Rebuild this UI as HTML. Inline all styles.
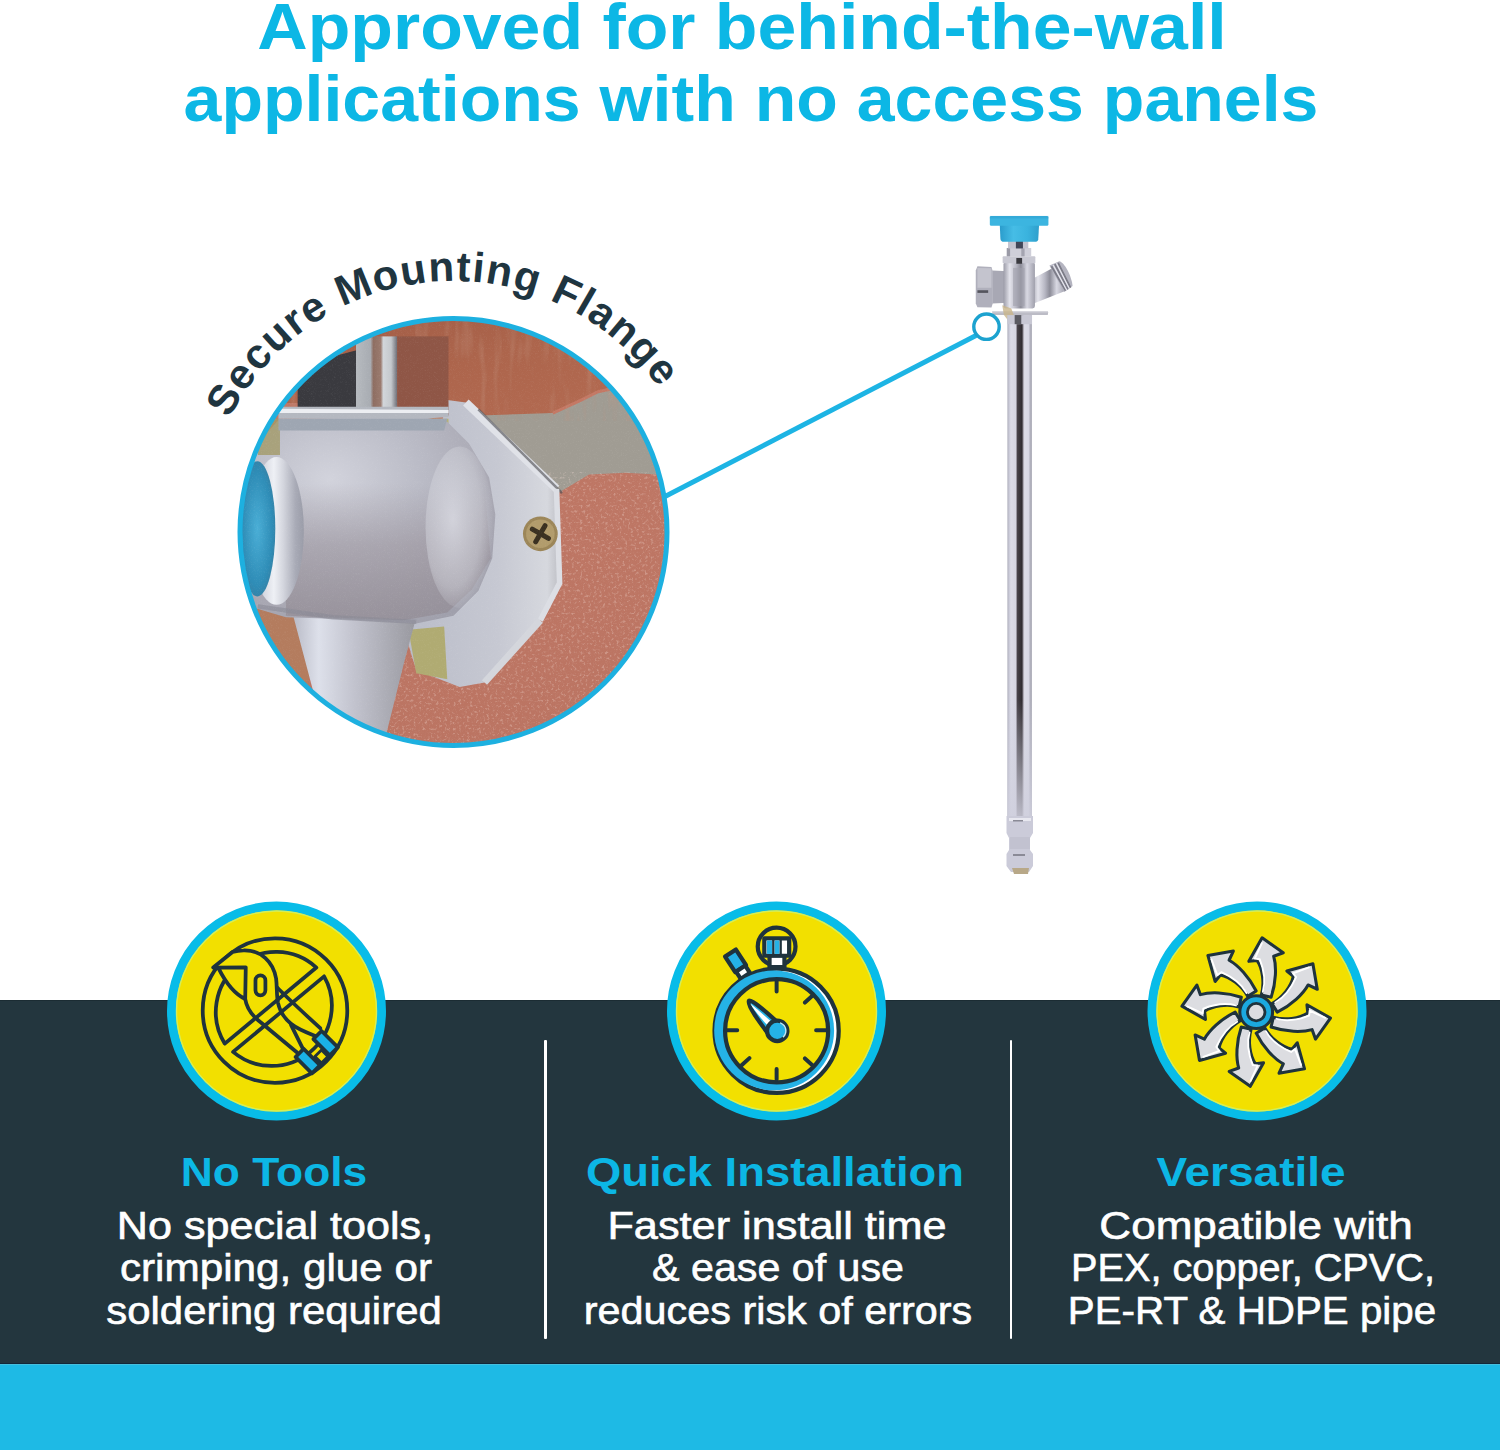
<!DOCTYPE html>
<html><head><meta charset="utf-8">
<style>
html,body{margin:0;padding:0;}
body{width:1500px;height:1450px;position:relative;overflow:hidden;background:#fff;font-family:"Liberation Sans",sans-serif;}
.abs{position:absolute;}
#band{left:0;top:1000px;width:1500px;height:364px;background:#23363e;border-top:1px solid #1b2c33;box-sizing:border-box;}
#foot{left:0;top:1363px;width:1500px;height:87px;background:#1ebae5;border-top:1px solid #12283a;box-sizing:border-box;box-shadow:inset 0 1px 0 #46bfdc;}
.ln{position:absolute;white-space:nowrap;line-height:1;}
.c{color:#0cb7e5;}
.w{color:#fff;-webkit-text-stroke:0.6px #fff;}
.div{position:absolute;top:1040px;width:2.5px;height:299px;background:#fff;border-radius:1px;}
svg{position:absolute;left:0;top:0;}
</style></head><body>
<div id="band" class="abs"></div>
<div id="foot" class="abs"></div>

<div class="ln c" style="left:742.3px;top:-5.5px;font-size:64px;font-weight:700;transform:translateX(-50%) scaleX(1.0905);">Approved for behind-the-wall</div>
<div class="ln c" style="left:750.5px;top:66.5px;font-size:64px;font-weight:700;transform:translateX(-50%) scaleX(1.0637);">applications with no access panels</div>
<div class="ln c" style="left:273.6px;top:1152.1px;font-size:41px;font-weight:700;transform:translateX(-50%) scaleX(1.0818);">No Tools</div>
<div class="ln c" style="left:775.0px;top:1152.1px;font-size:41px;font-weight:700;transform:translateX(-50%) scaleX(1.1061);">Quick Installation</div>
<div class="ln c" style="left:1251.3px;top:1152.1px;font-size:41px;font-weight:700;transform:translateX(-50%) scaleX(1.1217);">Versatile</div>
<div class="ln w" style="left:275.0px;top:1206.6px;font-size:38px;font-weight:400;transform:translateX(-50%) scaleX(1.1345);">No special tools,</div>
<div class="ln w" style="left:276.0px;top:1249.2px;font-size:38px;font-weight:400;transform:translateX(-50%) scaleX(1.1111);">crimping, glue or</div>
<div class="ln w" style="left:274.0px;top:1292.3px;font-size:38px;font-weight:400;transform:translateX(-50%) scaleX(1.1030);">soldering required</div>
<div class="ln w" style="left:777.4px;top:1206.6px;font-size:38px;font-weight:400;transform:translateX(-50%) scaleX(1.1391);">Faster install time</div>
<div class="ln w" style="left:777.8px;top:1249.2px;font-size:38px;font-weight:400;transform:translateX(-50%) scaleX(1.0836);">&amp; ease of use</div>
<div class="ln w" style="left:777.7px;top:1292.3px;font-size:38px;font-weight:400;transform:translateX(-50%) scaleX(1.0880);">reduces risk of errors</div>
<div class="ln w" style="left:1256.1px;top:1206.6px;font-size:38px;font-weight:400;transform:translateX(-50%) scaleX(1.1588);">Compatible with</div>
<div class="ln w" style="left:1252.6px;top:1249.2px;font-size:38px;font-weight:400;transform:translateX(-50%) scaleX(1.0445);">PEX, copper, CPVC,</div>
<div class="ln w" style="left:1252.1px;top:1292.3px;font-size:38px;font-weight:400;transform:translateX(-50%) scaleX(1.0614);">PE-RT &amp; HDPE pipe</div>
<div class="div" style="left:544px"></div>
<div class="div" style="left:1009.5px"></div>
<svg width="1500" height="1450" viewBox="0 0 1500 1450">
<!-- icon circles -->
<g>
<circle cx="276.5" cy="1011" r="105" fill="#f2e000" stroke="#08bce8" stroke-width="9"/>
<circle cx="776.5" cy="1011" r="105" fill="#f2e000" stroke="#08bce8" stroke-width="9"/>
<circle cx="1257" cy="1011" r="105" fill="#f2e000" stroke="#08bce8" stroke-width="9"/>
<circle cx="276.5" cy="1011" r="100" fill="none" stroke="#d4ee58" stroke-width="1.4"/>
<circle cx="776.5" cy="1011" r="100" fill="none" stroke="#d4ee58" stroke-width="1.4"/>
<circle cx="1257" cy="1011" r="100" fill="none" stroke="#d4ee58" stroke-width="1.4"/>
</g>
<!--ICON1--><g transform="translate(195,930) scale(0.110345)" fill="none" stroke="#1f333d" stroke-width="34" stroke-linejoin="round" stroke-linecap="round">
<circle cx="725" cy="730" r="655"/>
<path d="M1100,340 L270,1030 A545,545 0 0,1 1100,340 Z"/>
<path d="M345,1105 L1170,420 A545,545 0 0,1 345,1105 Z"/>
<path d="M165,340 L340,200 C380,188 410,185 440,185 C600,180 710,290 735,440 C742,500 742,560 744,600 L458,600 L460,338 Z" fill="#f2e000" stroke="none"/>
<path d="M165,340 L340,200 C380,188 410,185 440,185 C600,180 710,290 735,440 C745,520 738,590 752,660 C770,740 810,800 870,850 C930,900 1010,930 1090,960"/>
<path d="M455,625 C470,720 520,780 600,840 L925,1110"/>
<path d="M745,520 C780,560 820,600 1135,890"/>
<path d="M870,860 L975,1070"/>
<path d="M170,340 L460,338 L455,625 C380,590 300,520 215,350 Z" fill="#f2e000"/>
<rect x="548" y="412" width="90" height="180" rx="45" ry="45"/>
<path d="M1096,1262 L1258,1100 L1205,1047 L1043,1209 Z" fill="#1f333d"/>
<rect x="-105" y="-52" width="210" height="104" transform="translate(1022,1188) rotate(45)" fill="#1ab2e6"/>
<rect x="-105" y="-52" width="210" height="104" transform="translate(1184,1026) rotate(45)" fill="#1ab2e6"/>
<rect x="-42" y="-42" width="84" height="84" transform="translate(1146,1146) rotate(45)" fill="#f2e000" stroke-width="26"/>
</g>
<!--/ICON1-->
<!--ICON2--><g transform="translate(700,920) scale(0.12418)" stroke="#1f333d" stroke-width="34" stroke-linejoin="round" stroke-linecap="round">
<!-- side button -->
<g transform="translate(300,350) rotate(-33)">
<rect x="-52" y="-100" width="104" height="150" fill="#25b2e6"/>
<rect x="-44" y="50" width="88" height="70" fill="#ffffff"/>
<path d="M-22,-80 L-22,40" stroke="#ffffff" stroke-width="14" stroke-linecap="butt" fill="none" opacity="0.0"/>
</g>
<!-- crown -->
<circle cx="617" cy="214" r="152" fill="#f2e000" stroke-width="34"/>
<rect x="560" y="285" width="120" height="95" fill="#ffffff"/>
<rect x="518" y="148" width="200" height="140" fill="#ffffff"/>
<rect x="538" y="165" width="42" height="108" fill="#25b2e6" stroke="none"/>
<rect x="600" y="165" width="40" height="108" fill="#25b2e6" stroke="none"/>
<path d="M590,160 L590,280 M650,160 L650,280" stroke-width="18" fill="none"/>
<!-- body -->
<circle cx="617" cy="892" r="500" fill="#ffffff"/>
<circle cx="597" cy="889" r="483" fill="#25b2e6" stroke="none"/>
<circle cx="617" cy="892" r="415" fill="#f2e000"/>
<g fill="none" stroke-width="32">
<path d="M617,490 L617,575 M617,1200 L617,1285 M215,888 L300,888 M935,888 L1020,888 M845,665 L905,610 M845,1115 L905,1170 M335,1170 L398,1112"/>
</g>
<!-- hand -->
<path d="M395,650 C420,640 560,760 640,840 L560,930 C500,850 370,680 395,650 Z" fill="#25b2e6"/>
<path d="M405,672 C440,700 520,770 575,820 L545,850 C490,790 430,720 405,672 Z" fill="#ffffff" stroke="none"/>
<circle cx="622" cy="893" r="82" fill="#25b2e6"/>
<path d="M 650 830 A 68 68 0 0 1 672 940" fill="none" stroke="#bfe9f7" stroke-width="12"/>
</g>
<!--/ICON2-->
<!--ICON3--><g transform="translate(1256.2,1012.1) scale(0.11723)" stroke="#1f333d" stroke-width="26" stroke-linejoin="round" stroke-linecap="round"><g transform="rotate(2.3)"><path d="M38,-148 C62,-250 40,-370 -10,-440 L-80,-430 L25,-635 L210,-515 L130,-482 C158,-400 160,-260 122,-132 Z" fill="#dcdde1"/>
<path d="M50,-175 C70,-260 52,-360 12,-452 L-30,-455 L25,-590" fill="none" stroke="#ffffff" stroke-width="16"/></g>
<g transform="rotate(47.3)"><path d="M38,-148 C62,-250 40,-370 -10,-440 L-80,-430 L25,-635 L210,-515 L130,-482 C158,-400 160,-260 122,-132 Z" fill="#dcdde1"/>
<path d="M50,-175 C70,-260 52,-360 12,-452 L-30,-455 L25,-590" fill="none" stroke="#ffffff" stroke-width="16"/></g>
<g transform="rotate(92.3)"><path d="M38,-148 C62,-250 40,-370 -10,-440 L-80,-430 L25,-635 L210,-515 L130,-482 C158,-400 160,-260 122,-132 Z" fill="#dcdde1"/>
<path d="M50,-175 C70,-260 52,-360 12,-452 L-30,-455 L25,-590" fill="none" stroke="#ffffff" stroke-width="16"/></g>
<g transform="rotate(137.3)"><path d="M38,-148 C62,-250 40,-370 -10,-440 L-80,-430 L25,-635 L210,-515 L130,-482 C158,-400 160,-260 122,-132 Z" fill="#dcdde1"/>
<path d="M50,-175 C70,-260 52,-360 12,-452 L-30,-455 L25,-590" fill="none" stroke="#ffffff" stroke-width="16"/></g>
<g transform="rotate(182.3)"><path d="M38,-148 C62,-250 40,-370 -10,-440 L-80,-430 L25,-635 L210,-515 L130,-482 C158,-400 160,-260 122,-132 Z" fill="#dcdde1"/>
<path d="M50,-175 C70,-260 52,-360 12,-452 L-30,-455 L25,-590" fill="none" stroke="#ffffff" stroke-width="16"/></g>
<g transform="rotate(227.3)"><path d="M38,-148 C62,-250 40,-370 -10,-440 L-80,-430 L25,-635 L210,-515 L130,-482 C158,-400 160,-260 122,-132 Z" fill="#dcdde1"/>
<path d="M50,-175 C70,-260 52,-360 12,-452 L-30,-455 L25,-590" fill="none" stroke="#ffffff" stroke-width="16"/></g>
<g transform="rotate(272.3)"><path d="M38,-148 C62,-250 40,-370 -10,-440 L-80,-430 L25,-635 L210,-515 L130,-482 C158,-400 160,-260 122,-132 Z" fill="#dcdde1"/>
<path d="M50,-175 C70,-260 52,-360 12,-452 L-30,-455 L25,-590" fill="none" stroke="#ffffff" stroke-width="16"/></g>
<g transform="rotate(317.3)"><path d="M38,-148 C62,-250 40,-370 -10,-440 L-80,-430 L25,-635 L210,-515 L130,-482 C158,-400 160,-260 122,-132 Z" fill="#dcdde1"/>
<path d="M50,-175 C70,-260 52,-360 12,-452 L-30,-455 L25,-590" fill="none" stroke="#ffffff" stroke-width="16"/></g>
<circle r="140" fill="#1ba9df"/>
<circle r="75" fill="#dcdde1" stroke-width="24"/>
</g><!--/ICON3-->
<!--FAUCET--><defs>
<linearGradient id="pipeG" x1="1007.4" y1="0" x2="1031.9" y2="0" gradientUnits="userSpaceOnUse">
<stop offset="0" stop-color="#aeaebb"/>
<stop offset="0.06" stop-color="#c4c4d2"/>
<stop offset="0.14" stop-color="#dcdce8"/>
<stop offset="0.34" stop-color="#d6d6e2"/>
<stop offset="0.38" stop-color="#8a8690"/>
<stop offset="0.41" stop-color="#48434a"/>
<stop offset="0.60" stop-color="#2e2a2e"/>
<stop offset="0.64" stop-color="#9a96a0"/>
<stop offset="0.70" stop-color="#dcdce6"/>
<stop offset="0.86" stop-color="#d8d8e4"/>
<stop offset="0.93" stop-color="#b2b2be"/>
<stop offset="1" stop-color="#a8a8b4"/>
</linearGradient>
<linearGradient id="pipeFade" x1="0" y1="700" x2="0" y2="815" gradientUnits="userSpaceOnUse">
<stop offset="0" stop-color="#cfcfdd" stop-opacity="0"/>
<stop offset="1" stop-color="#cfcfdd" stop-opacity="0.85"/>
</linearGradient>
<linearGradient id="chromeG" x1="0" y1="0" x2="1" y2="0">
<stop offset="0" stop-color="#9c9ca8"/>
<stop offset="0.2" stop-color="#e4e4ec"/>
<stop offset="0.4" stop-color="#b8b8c4"/>
<stop offset="0.55" stop-color="#8c8c98"/>
<stop offset="0.75" stop-color="#d8d8e2"/>
<stop offset="1" stop-color="#a0a0ac"/>
</linearGradient>
<linearGradient id="blueG" x1="0" y1="0" x2="1" y2="0">
<stop offset="0" stop-color="#2a9ccc"/>
<stop offset="0.35" stop-color="#46bde6"/>
<stop offset="0.7" stop-color="#3ab3de"/>
<stop offset="1" stop-color="#2f9fcc"/>
</linearGradient>
</defs>
<!-- pipe -->
<rect x="1007.4" y="312" width="24.5" height="505" fill="url(#pipeG)"/>
<rect x="1007.4" y="700" width="24.5" height="117" fill="url(#pipeFade)"/>
<!-- bottom fitting -->
<path d="M1006.5,816 L1033,816 L1033,833 L1030,838 L1030,850 L1033,854 L1033,866 L1029,872 L1011,872 L1006.5,866 L1006.5,854 L1009,850 L1009,838 L1006.5,833 Z" fill="#cbcbd9"/>
<rect x="1009" y="818" width="22" height="3" fill="#e8e8f0"/>
<rect x="1013" y="820" width="10" height="1.5" fill="#8a8a96"/>
<rect x="1013" y="854" width="12" height="2" fill="#8a8a96"/>
<rect x="1010" y="837" width="20" height="12" fill="#c2c2d0"/>
<path d="M1012,868 L1029,868 L1028,874 L1014,874 Z" fill="#b8a888"/>
<g transform="translate(965,205) scale(0.08276)">
<!-- right outlet -->
<path d="M800,900 L1060,760 L1210,1040 L830,1190 Z" fill="url(#chromeG)"/>
<path d="M1020,730 L1140,680 C1200,690 1290,860 1300,980 L1200,1050 Z" fill="#b4b4c0"/>
<path d="M1045,740 L1215,1035 M1085,715 L1245,1020 M1125,700 L1275,1000" stroke="#7c7c88" stroke-width="22" fill="none"/>
<path d="M1065,725 L1230,1030 M1105,705 L1260,1010" stroke="#e6e6ee" stroke-width="14" fill="none"/>
<!-- left cap -->
<path d="M330,790 L520,800 L520,1180 L330,1190 Z" fill="#a8a8b4"/>
<path d="M150,740 L320,750 L335,800 L335,1190 L320,1240 L150,1235 L130,1190 L130,790 Z" fill="#b0b0bc"/>
<path d="M150,760 L320,765 L320,1000 L150,1000 Z" fill="#c4c4ce"/>
<rect x="150" y="1030" width="130" height="32" fill="#55555e"/>
<!-- body -->
<rect x="465" y="690" width="380" height="560" rx="30" fill="url(#chromeG)"/>
<rect x="580" y="760" width="140" height="460" fill="#a0a0ac" opacity="0.6"/>
<rect x="455" y="620" width="395" height="85" rx="10" fill="#c8c8d2"/>
<rect x="620" y="640" width="70" height="70" fill="#3a3a40"/>
<!-- hex nut -->
<rect x="505" y="520" width="295" height="100" fill="#cfcfd9"/>
<rect x="505" y="520" width="40" height="100" fill="#9a9aa6"/>
<rect x="680" y="520" width="40" height="100" fill="#a4a4b0"/>
<!-- stem -->
<rect x="520" y="430" width="245" height="95" fill="#c4c4d0"/>
<rect x="615" y="430" width="85" height="95" fill="#404658"/>
<!-- handle -->
<path d="M420,235 L895,235 L885,420 C880,440 860,445 840,445 L470,445 C445,445 430,430 428,410 Z" fill="url(#blueG)"/>
<path d="M300,150 C300,138 310,132 330,132 L980,132 C1000,132 1008,140 1008,155 L1008,235 C1008,245 1000,250 985,250 L325,250 C308,250 300,245 300,235 Z" fill="#3cb5e0"/>
<rect x="300" y="132" width="708" height="30" fill="#2c9fcf" opacity="0.5"/>
<!-- flange -->
<path d="M330,1285 L1000,1285 L1005,1300 L1000,1330 L330,1330 Z" fill="#bcbcc6"/>
<rect x="330" y="1285" width="670" height="12" fill="#dadae2"/>
<!-- brass bits -->
<path d="M450,1210 L560,1250 L600,1360 L540,1420 L470,1330 Z" fill="#c8b48a" opacity="0.8"/>
<!-- pipe collar under flange -->
<rect x="510" y="1330" width="300" height="110" fill="#c8c8d4"/>
<rect x="600" y="1330" width="80" height="110" fill="#5a5a62"/>
</g>
<!--/FAUCET-->
<!-- connector -->
<line x1="665" y1="496.5" x2="976" y2="335.5" stroke="#1db4e4" stroke-width="4.8"/>
<circle cx="986.5" cy="326.7" r="12.7" fill="none" stroke="#1ca2cf" stroke-width="3.4"/>
<!-- photo circle -->
<defs><path id="arc" d="M 453.5 532 m -251 0 a 251 251 0 1 1 502 0"/></defs>
<!--PHOTO--><defs>
<clipPath id="pc"><circle cx="453.5" cy="532" r="213.5"/></clipPath>
<linearGradient id="brickG" x1="0" y1="0" x2="0" y2="1">
<stop offset="0" stop-color="#c07866"/>
<stop offset="1" stop-color="#bb7462"/>
</linearGradient>
<linearGradient id="topBrick" x1="0" y1="0" x2="1" y2="1">
<stop offset="0" stop-color="#9e5a44"/>
<stop offset="0.5" stop-color="#ad654c"/>
<stop offset="1" stop-color="#b46b52"/>
</linearGradient>
<radialGradient id="bodyR" cx="0.35" cy="0.3" r="0.8">
<stop offset="0" stop-color="#d2d3dc"/>
<stop offset="0.45" stop-color="#babbc6"/>
<stop offset="0.8" stop-color="#a9a8b3"/>
<stop offset="1" stop-color="#a0a0ac"/>
</radialGradient>
<linearGradient id="flangeG" x1="0" y1="0" x2="1" y2="0">
<stop offset="0" stop-color="#b9bcc8"/>
<stop offset="0.6" stop-color="#c6c8d2"/>
<stop offset="0.92" stop-color="#d6d8de"/>
<stop offset="1" stop-color="#bdbec4"/>
</linearGradient>
<linearGradient id="pipeDown" x1="0" y1="0" x2="1" y2="0">
<stop offset="0" stop-color="#b6b8c4"/>
<stop offset="0.22" stop-color="#dde0ea"/>
<stop offset="0.5" stop-color="#c2c3ce"/>
<stop offset="1" stop-color="#98989f"/>
</linearGradient>
<linearGradient id="stemG" x1="0" y1="0" x2="1" y2="0">
<stop offset="0" stop-color="#b6babf"/>
<stop offset="0.35" stop-color="#a8acb2"/>
<stop offset="0.42" stop-color="#8e6e62"/>
<stop offset="0.6" stop-color="#9a7a6e"/>
<stop offset="0.66" stop-color="#d2d6da"/>
<stop offset="0.85" stop-color="#c4c8cc"/>
<stop offset="1" stop-color="#6c6c74"/>
</linearGradient>
<linearGradient id="darkBand" x1="0" y1="560" x2="0" y2="1000" gradientUnits="userSpaceOnUse">
<stop offset="0" stop-color="#958c94" stop-opacity="0"/>
<stop offset="0.45" stop-color="#958c94" stop-opacity="0.45"/>
<stop offset="1" stop-color="#8e868e" stop-opacity="0.6"/>
</linearGradient>
<radialGradient id="bossG" cx="0.4" cy="0.45" r="0.6">
<stop offset="0" stop-color="#dcdde5" stop-opacity="0.8"/>
<stop offset="0.7" stop-color="#cfd0d8" stop-opacity="0.5"/>
<stop offset="1" stop-color="#cfd0d8" stop-opacity="0"/>
</radialGradient>
<linearGradient id="ringG" x1="0" y1="0" x2="1" y2="0">
<stop offset="0" stop-color="#b4b6c2"/>
<stop offset="0.45" stop-color="#eef0f5"/>
<stop offset="0.62" stop-color="#d4d6de"/>
<stop offset="0.85" stop-color="#a8aab6"/>
<stop offset="1" stop-color="#9a9ca8"/>
</linearGradient>
<radialGradient id="holeG" cx="0.5" cy="0.5" r="0.6">
<stop offset="0" stop-color="#4aaed6"/>
<stop offset="0.7" stop-color="#2e8cb6"/>
<stop offset="1" stop-color="#3a7a9a"/>
</radialGradient>
<filter id="noise" x="0" y="0" width="100%" height="100%">
<feTurbulence type="fractalNoise" baseFrequency="0.8" numOctaves="2" seed="3" result="n"/>
<feColorMatrix type="matrix" values="0 0 0 0 1  0 0 0 0 1  0 0 0 0 1  0 0 0 0.5 -0.25" in="n" result="w"/>
<feComposite in="w" in2="SourceGraphic" operator="in"/>
</filter>
<filter id="speck" x="0" y="0" width="100%" height="100%">
<feTurbulence type="fractalNoise" baseFrequency="0.11" numOctaves="3" seed="7"/>
<feColorMatrix type="matrix" values="0 0 0 0 0.92  0 0 0 0 0.74  0 0 0 0 0.68  0 0 0 4 -2.2"/>
</filter>
<filter id="speck2" x="0" y="0" width="100%" height="100%">
<feTurbulence type="fractalNoise" baseFrequency="0.04 0.006" numOctaves="2" seed="11"/>
<feColorMatrix type="matrix" values="0 0 0 0 0.55  0 0 0 0 0.30  0 0 0 0 0.22  0 0 0 3 -1.5"/>
</filter>
</defs>
<g clip-path="url(#pc)">
<g transform="translate(230,310) scale(0.31037)">
<!-- base brick (lower, pinkish) -->
<rect x="0" y="0" width="1450" height="1450" fill="url(#brickG)"/>
<!-- top brick -->
<path d="M0,0 L1450,0 L1450,330 L1347,321 L1244,251 L1186,263 L1128,292 L1040,332 L860,356 L700,300 L0,300 Z" fill="url(#topBrick)"/>
<!-- mortar band -->
<path d="M800,340 L1040,332 L1128,292 L1186,263 L1244,251 L1347,321 L1420,450 L1430,530 L1376,530 L1273,524 L1157,530 L1040,600 L900,500 Z" fill="#a09c93"/>
<path d="M1040,332 L1128,292 L1186,263 L1244,251 L1347,321" fill="none" stroke="#c47864" stroke-width="10"/>
<path d="M860,540 L1040,600 L1157,530 L1273,524 L1450,530 L1450,1450 L380,1450 L450,1150 L800,1210 Z" fill="#fff" filter="url(#speck)" opacity="0.3"/>
<path d="M0,0 L1450,0 L1450,330 L1347,321 L1244,251 L1186,263 L1128,292 L1040,332 L860,356 L700,300 L0,300 Z" fill="#fff" filter="url(#speck2)" opacity="0.3"/>
<!-- left lower brick -->
<path d="M60,940 L270,960 L250,1250 L40,1200 Z" fill="#b47c5e"/>
<!-- flange plate -->
<path d="M700,290 L760,298 L1052,576 L1062,880 L1000,1000 L820,1200 L740,1215 L600,1160 L560,1030 L600,700 Z" fill="url(#flangeG)"/>
<path d="M760,298 L1052,576" fill="none" stroke="#e0e2e8" stroke-width="26"/>
<path d="M800,320 L1070,590" fill="none" stroke="#4a4a4e" stroke-width="8" opacity="0.6"/>
<path d="M1052,576 L1062,880 L1000,1000" fill="none" stroke="#dcdee4" stroke-width="18"/>
<path d="M1000,1000 L820,1200" fill="none" stroke="#d4d6dc" stroke-width="22"/>
<!-- brass bits -->
<path d="M609,350 L704,350 L704,495 L609,492 Z" fill="#b5b077"/>
<path d="M575,1030 L690,1020 L700,1190 L600,1170 Z" fill="#b0ab72"/>
<!-- screw -->
<circle cx="1000" cy="721" r="56" fill="#9c8658"/>
<circle cx="1000" cy="721" r="46" fill="#b29c6c"/>
<g transform="translate(1000,721) rotate(30)"><path d="M-30,0 L30,0 M0,-30 L0,30" stroke="#3a3020" stroke-width="16" stroke-linecap="round"/></g>
<!-- down pipe -->
<path d="M197,960 L600,990 L560,1140 L515,1320 L480,1460 L300,1460 L290,1311 Z" fill="url(#pipeDown)"/>
<!-- main body -->
<path d="M60,460 L160,350 L620,345 L700,360 L770,430 L835,540 L855,660 L845,800 L800,905 L720,985 L600,1010 L330,995 L180,990 L80,960 L45,880 L35,600 Z" fill="url(#bodyR)"/>
<!-- darker lower-middle band on body -->
<path d="M180,560 L820,560 L840,800 L780,900 L700,975 L560,1000 L180,985 Z" fill="url(#darkBand)"/>
<!-- boss near flange -->
<ellipse cx="740" cy="700" rx="110" ry="260" fill="url(#bossG)"/>
<!-- body bottom shadow edge -->
<path d="M90,955 L330,990 L600,1005" fill="none" stroke="#8a8a96" stroke-width="14" opacity="0.6"/>
<!-- olive area left -->
<path d="M90,350 L161,350 L161,467 L90,467 Z" fill="#a39a68" opacity="0.8"/>
<!-- top: dark textured -->
<path d="M218,180 L411,129 L411,313 L218,313 Z" fill="#3a3a3f"/>
<!-- chrome stem -->
<rect x="406" y="85" width="133" height="241" fill="url(#stemG)"/>
<!-- brown block -->
<rect x="539" y="85" width="165" height="255" fill="#8f5646"/>
<!-- collar -->
<path d="M156,312 L704,312 L704,345 L620,350 L156,350 Z" fill="#b4b8c0"/>
<path d="M156,318 L704,322 L704,332 L156,332 Z" fill="#eceef2"/>
<path d="M156,350 L700,350 L690,388 L156,388 Z" fill="#9ea6b2"/>
<!-- left opening -->
<ellipse cx="150" cy="712" rx="88" ry="238" fill="url(#ringG)"/>
<ellipse cx="88" cy="705" rx="58" ry="218" fill="url(#holeG)"/>
<rect x="0" y="0" width="1450" height="1450" filter="url(#noise)" opacity="0.35"/>
</g>
</g>
<!--/PHOTO-->
<circle cx="453.5" cy="532" r="213.5" fill="none" stroke="#1db0e0" stroke-width="5"/>
<text font-family="Liberation Sans" font-weight="700" font-size="42" fill="#1f3540" letter-spacing="1.4"><textPath href="#arc" startOffset="47.8%" text-anchor="middle">Secure Mounting Flange</textPath></text>
</svg>
</body></html>
